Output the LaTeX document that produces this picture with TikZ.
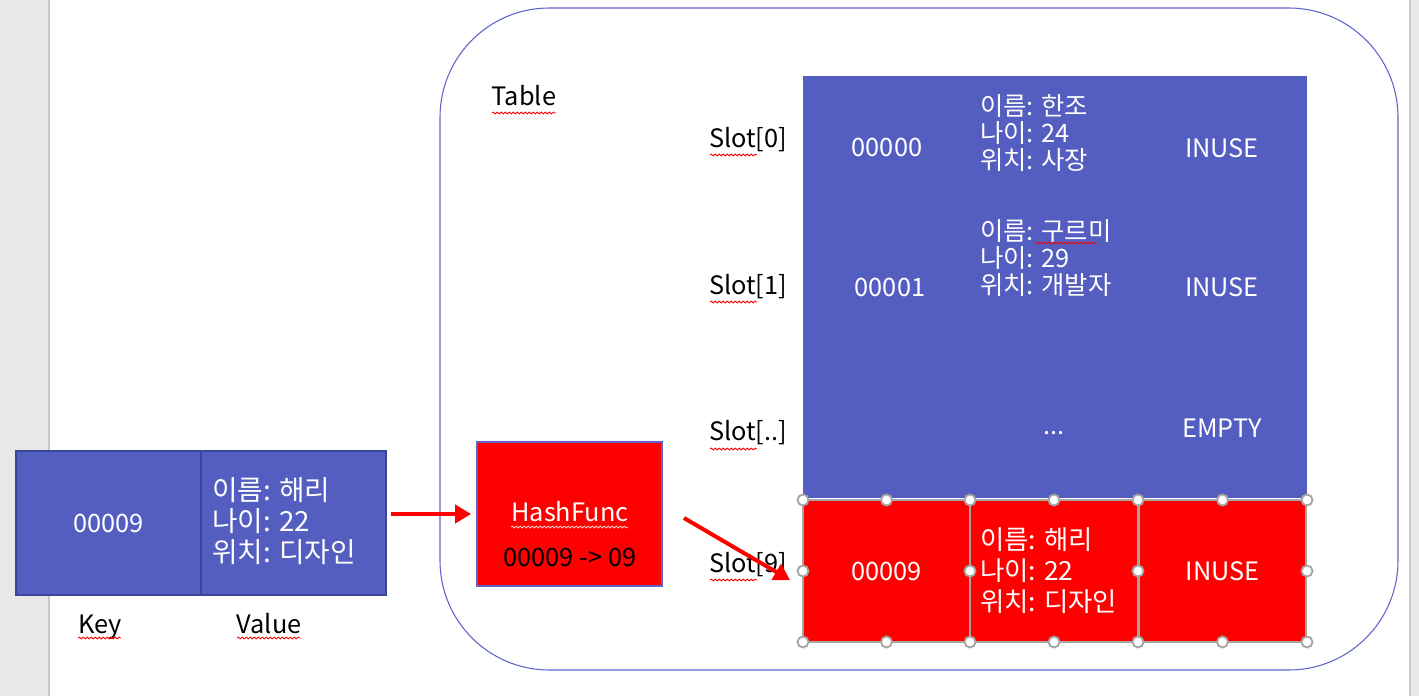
\documentclass[tikz,border=0pt]{standalone}
\usepackage{fontspec}
\setmainfont{Noto Sans CJK KR}
\usetikzlibrary{arrows.meta,decorations.pathmorphing}
\definecolor{slotblue}{RGB}{84,94,192}
\definecolor{boxedge}{RGB}{60,70,150}
\definecolor{frameblue}{RGB}{95,100,200}
\definecolor{pagegray}{RGB}{233,232,230}
\definecolor{edgegray}{RGB}{200,200,200}
\definecolor{handlegray}{RGB}{165,165,165}

\begin{document}
\begin{tikzpicture}[x=0.75pt,y=-0.75pt,
    every node/.style={font=\fontsize{19}{20.3}\selectfont, inner sep=0pt},
    wtext/.style={text=white},
    vtext/.style={text=white, align=left, anchor=west},
    box/.style={minimum width=138.75pt, minimum height=108pt, line width=0.8pt},
    cell/.style={fill=red, draw=handlegray, line width=1.2pt, minimum width=125.25pt, minimum height=106.5pt, text=white},
    handle/.style={draw=handlegray, fill=white, line width=1.4pt},
    spell/.style={red, line width=0.6pt, decorate, decoration={snake, amplitude=0.7pt, segment length=3pt}},
    redarrow/.style={red, line width=3pt, -{Triangle[length=12pt,width=13.5pt]}}]
    \useasboundingbox (0,0) rectangle (1419,696);
    % page edges
    \fill[pagegray] (0,0) rectangle (49,696);
    \draw[edgegray, line width=1.2pt] (49,0) -- (49,696);
    \fill[pagegray] (1410,0) rectangle (1419,696);
    \draw[edgegray, line width=1.2pt] (1410,0) -- (1410,696);

    % table frame
    \draw[frameblue, line width=0.8pt, rounded corners=82pt] (440,8) rectangle (1398,670);
    \node (table) at (524,96) {Table};
    \draw[spell] (492,113) -- (556,113);

    % key / value
    \node[box, fill=slotblue, draw=boxedge, text=white] (key) at (108.5,523) {00009};
    \node[box, fill=slotblue, draw=boxedge] (val) at (293.5,523) {};
    \node[vtext, font=\fontsize{20.8}{23.3}\selectfont] (kv) at (212,521) {이름: 해리\\나이: 22\\위치: 디자인};
    \node[anchor=base] (keylbl) at (100,633) {Key};
    \node[anchor=base] (vallbl) at (269,633) {Value};
    \draw[spell] (78,638) -- (121,638);
    \draw[spell] (237,638) -- (301,638);

    % hash function
    \node[box, fill=red, draw=frameblue] (hash) at (569.5,514) {};
    \node[wtext] (hname) at (570,512) {HashFunc};
    \node (hcalc) at (570,557) {00009 -> 09};
    \draw[white!80!red, line width=0.6pt, decorate, decoration={snake, amplitude=0.7pt, segment length=3pt}] (511,527) -- (628,527);

    % slots
    \node (slot0) at (748,140) {Slot[0]};
    \node (slot1) at (748,287) {Slot[1]};
    \node (slotd) at (748,433) {Slot[..]};
    \node (slot9) at (748,565) {Slot[9]};
    \foreach \y in {155,302,449,580}
        \draw[spell] (710,\y) -- (757,\y);

    \fill[slotblue] (803,76) rectangle (1307,498);
    \node[wtext] (k0) at (887,147) {00000};
    \node[vtext] (v0) at (980,133) {이름: 한조\\나이: 24\\위치: 사장};
    \node[wtext] (s0) at (1222,148) {INUSE};
    \node[wtext] (k1) at (890,287) {00001};
    \node[vtext] (v1) at (980,258) {이름: 구르미\\나이: 29\\위치: 개발자};
    \draw[spell] (1035,243) -- (1097,243);
    \node[wtext] (s1) at (1222,287) {INUSE};
    \node[wtext] (vd) at (1054,433) {...};
    \node[wtext] (sd) at (1222,428) {EMPTY};

    \node[cell] (r9key) at (886.5,571) {00009};
    \node[cell] (r9val) at (1054,571) {};
    \node[cell] (r9st) at (1222.5,571) {INUSE};
    \node[vtext, font=\fontsize{19.8}{23.3}\selectfont] (v9) at (980,571) {이름: 해리\\나이: 22\\위치: 디자인};
    \foreach \x in {803,886.5,970,1054,1138,1222.5,1307} {
        \draw[handle] (\x,500) circle[radius=5.5];
        \draw[handle] (\x,642) circle[radius=5.5];
    }
    \foreach \x in {803,970,1138,1307}
        \draw[handle] (\x,571) circle[radius=5.5];

    % arrows
    \coordinate (hout) at (684,518);
    \coordinate (r9in) at (790,580);
    \draw[redarrow] ([xshift=3pt]val.east |- hash) -- ([xshift=-4pt]hash.west);
    \draw[redarrow] (hout) -- (r9in);
\end{tikzpicture}
\end{document}
